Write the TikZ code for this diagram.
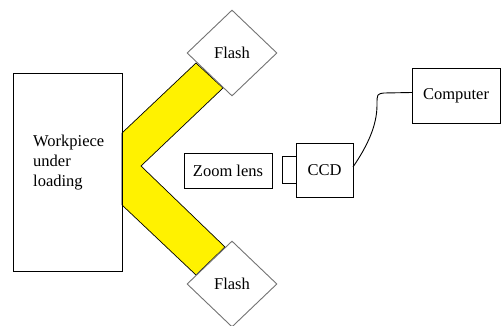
\documentclass[tikz,border=0pt]{standalone}
\usepackage{fontspec}
\setmainfont{Liberation Serif}
\usetikzlibrary{shapes.geometric,positioning}

\tikzset{
  box/.style={draw, rectangle, line width=0.9pt, inner sep=0pt, outer sep=0pt},
  flash/.style={draw=black!55, fill=white, diamond, aspect=1, line width=0.9pt,
    minimum width=90pt, minimum height=86pt, inner sep=0pt},
  beam/.style={fill=yellow, draw=black, line width=0.7pt},
}

\begin{document}
\begin{tikzpicture}[x=1pt, y=-1pt, font=\fontsize{16.5}{20}\selectfont]
  \useasboundingbox (0,0) rectangle (501,326);

  % light beams
  \filldraw[beam] (122,133) -- (196,63) -- (223,88) -- (141,166)
    -- (225,247) -- (196,275) -- (122,205) -- cycle;

  % workpiece
  \node[box, minimum width=109pt, minimum height=198pt] (work) at (67.5,172) {};
  \node[anchor=west, align=left, inner sep=0pt] (worktext) at (33,163) {Workpiece\\under\\loading};

  % flashes
  \node[flash] (flashtop) at (232,53) {Flash};
  \node[flash] (flashbot) at (232,284) {Flash};

  % optics
  \node[box, minimum width=88pt, minimum height=35pt] (lens) at (228,170.5) {Zoom lens};
  \node[box, minimum width=57pt, minimum height=54pt] (ccd) at (324.5,170) {CCD};
  \node[box, minimum width=14pt, minimum height=27pt, left=0pt of ccd] (mount) {};

  % computer
  \node[box, minimum width=88pt, minimum height=55pt] (comp) at (456,95.5) {Computer};

  % cable
  \draw[line width=0.9pt] ([yshift=3pt]ccd.east) .. controls (368,145) and (377,125) .. (377,105)
    .. controls (377,94) .. (384,93) -- ([yshift=3pt]comp.west);
\end{tikzpicture}
\end{document}
